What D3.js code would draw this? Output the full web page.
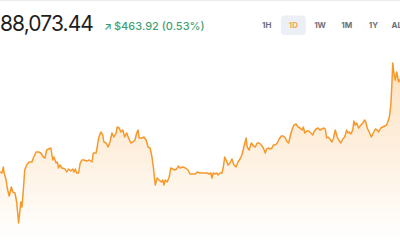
<!DOCTYPE html>
<html>
<head>
<meta charset="utf-8">
<script src="https://cdn.jsdelivr.net/npm/d3@7"></script>
<style>
    body { margin: 0; background: #fff; overflow: hidden; }
    svg { display: block; font-family: Inter, "Noto Sans", sans-serif; }
</style>
</head>
<body>
<div id="chart"></div>
<script>
// minutes since the start of the day
var minutes = [
    0, 7, 12, 15, 22, 26, 33, 41, 46, 54,
    60, 67, 75, 79, 84, 89, 96, 105, 115, 120,
    130, 139, 147, 156, 162, 168, 183, 190, 194, 202,
    206, 211, 216, 223, 234, 240, 246, 255, 262, 266,
    271, 276, 283, 288, 294, 302, 312, 321, 331, 336,
    346, 350, 355, 363, 370, 374, 382, 389, 396, 403,
    410, 418, 422, 429, 435, 442, 449, 456, 463, 471,
    478, 486, 492, 497, 501, 511, 518, 526, 533, 540,
    546, 552, 559, 566, 573, 581, 586, 590, 595, 602,
    609, 615, 622, 629, 636, 642, 648, 658, 667, 677,
    684, 696, 703, 710, 720, 730, 739, 746, 753, 759,
    763, 768, 775, 780, 785, 792, 799, 804, 809, 814,
    821, 828, 835, 842, 850, 857, 864, 871, 878, 886,
    890, 897, 905, 912, 919, 926, 933, 941, 948, 955,
    960, 965, 972, 979, 984, 991, 998, 1005, 1013, 1020,
    1027, 1034, 1039, 1044, 1051, 1058, 1066, 1073, 1080, 1087,
    1092, 1097, 1104, 1111, 1119, 1126, 1130, 1138, 1145, 1152,
    1159, 1166, 1171, 1176, 1181, 1188, 1195, 1200, 1207, 1214,
    1221, 1227, 1234, 1241, 1248, 1253, 1257, 1263, 1270, 1274,
    1279, 1284, 1291, 1299, 1306, 1313, 1318, 1322, 1329, 1337,
    1344, 1351, 1358, 1363, 1371, 1378, 1385, 1392, 1397, 1401,
    1407, 1411, 1414, 1418, 1423, 1428, 1435, 1440
];

// BTC price in USD
var prices = [
    87610, 87605, 87635, 87605, 87570, 87530, 87490, 87535, 87510, 87505,
    87460, 87355, 87460, 87435, 87520, 87620, 87645, 87660, 87660, 87680,
    87710, 87710, 87705, 87685, 87680, 87720, 87730, 87670, 87685, 87655,
    87660, 87630, 87645, 87630, 87625, 87610, 87625, 87615, 87625, 87610,
    87625, 87605, 87605, 87650, 87670, 87670, 87665, 87670, 87660, 87705,
    87705, 87735, 87780, 87810, 87795, 87760, 87755, 87735, 87760, 87805,
    87785, 87805, 87835, 87830, 87810, 87820, 87785, 87805, 87780, 87755,
    87760, 87770, 87805, 87820, 87780, 87780, 87785, 87770, 87735, 87730,
    87695, 87635, 87545, 87580, 87570, 87560, 87570, 87545, 87570, 87560,
    87585, 87630, 87625, 87620, 87625, 87640, 87630, 87635, 87630, 87620,
    87600, 87600, 87600, 87610, 87605, 87605, 87605, 87605, 87600, 87605,
    87580, 87605, 87600, 87605, 87595, 87605, 87605, 87635, 87685, 87670,
    87645, 87655, 87675, 87645, 87635, 87660, 87675, 87695, 87735, 87780,
    87735, 87720, 87755, 87740, 87735, 87755, 87755, 87745, 87730, 87705,
    87725, 87730, 87725, 87730, 87745, 87745, 87755, 87775, 87790, 87790,
    87780, 87760, 87755, 87785, 87820, 87845, 87850, 87835, 87830, 87820,
    87835, 87805, 87815, 87815, 87805, 87795, 87810, 87825, 87830, 87820,
    87825, 87830, 87825, 87780, 87785, 87775, 87760, 87775, 87820, 87785,
    87765, 87755, 87775, 87785, 87820, 87805, 87810, 87800, 87820, 87865,
    87845, 87855, 87830, 87845, 87855, 87870, 87855, 87830, 87810, 87785,
    87805, 87825, 87820, 87810, 87830, 87835, 87840, 87845, 87865, 87880,
    87945, 88055, 88155, 88105, 88070, 88110, 88060, 88073.44
];

var periods = ["1H", "1D", "1W", "1M", "1Y", "ALL"];
var activePeriod = "1D";

var lastPrice = "88,073.44";
var changeText = "$463.92 (0.53%)";

var width = 400,
    height = 240;

var data = minutes.map(function (m, i) {
    return {t: m, p: prices[i]};
});

var svg = d3.select("#chart")
    .append("svg")
    .attr("width", width)
    .attr("height", height);

// faint top border
svg.append("line")
    .attr("x1", 0).attr("x2", width)
    .attr("y1", 0.5).attr("y2", 0.5)
    .attr("stroke", "#ebebeb");

// scales
var x = d3.scaleLinear()
    .domain([0, 1440])
    .range([0, width]);

var y = d3.scaleLinear()
    .domain([87270, 88470])
    .range([height, 0]);

// gradient for the area under the line
var grad = svg.append("defs")
    .append("linearGradient")
    .attr("id", "fade")
    .attr("x1", 0).attr("x2", 0)
    .attr("y1", 0).attr("y2", 1);
grad.append("stop").attr("offset", "0%").attr("stop-color", "#f7931a").attr("stop-opacity", 0.28);
grad.append("stop").attr("offset", "100%").attr("stop-color", "#f7931a").attr("stop-opacity", 0.0);

var area = d3.area()
    .x(function (d) { return x(d.t); })
    .y0(height)
    .y1(function (d) { return y(d.p); });

var line = d3.line()
    .x(function (d) { return x(d.t); })
    .y(function (d) { return y(d.p); });

svg.append("path")
    .datum(data)
    .attr("d", area)
    .attr("fill", "url(#fade)");

svg.append("path")
    .datum(data)
    .attr("d", line)
    .attr("fill", "none")
    .attr("stroke", "#f7982a")
    .attr("stroke-width", 1.5)
    .attr("stroke-linejoin", "round");

// header: price and change
svg.append("text")
    .attr("x", 0)
    .attr("y", 30.5)
    .style("font-size", "21px")
    .style("letter-spacing", "-0.9px")
    .style("fill", "#1f1f1f")
    .text(lastPrice);

svg.append("text")
    .attr("x", 104)
    .attr("y", 29.5)
    .style("font-size", "10px")
    .style("font-weight", 600)
    .style("fill", "#3f9f74")
    .text("↗");

svg.append("text")
    .attr("x", 114)
    .attr("y", 29.5)
    .style("font-size", "11px")
    .style("font-weight", 500)
    .style("fill", "#3f9f74")
    .text(changeText);

// period buttons
var bx = d3.scalePoint()
    .domain(periods)
    .range([266.7, 400]);

svg.append("rect")
    .attr("x", bx(activePeriod) - 12.5)
    .attr("y", 15.5)
    .attr("width", 25)
    .attr("height", 19.5)
    .attr("rx", 4)
    .attr("fill", "#eceff5");

svg.selectAll(".period")
    .data(periods)
    .enter().append("text")
    .attr("class", "period")
    .attr("x", function (d) { return d === "ALL" ? 391.5 : bx(d); })
    .attr("y", 28.3)
    .attr("text-anchor", function (d) { return d === "ALL" ? "start" : "middle"; })
    .style("font-size", "8px")
    .style("font-weight", 700)
    .style("fill", function (d) { return d === activePeriod ? "#f7a748" : "#6b6f78"; })
    .text(function (d) { return d; });
</script>
</body>
</html>
